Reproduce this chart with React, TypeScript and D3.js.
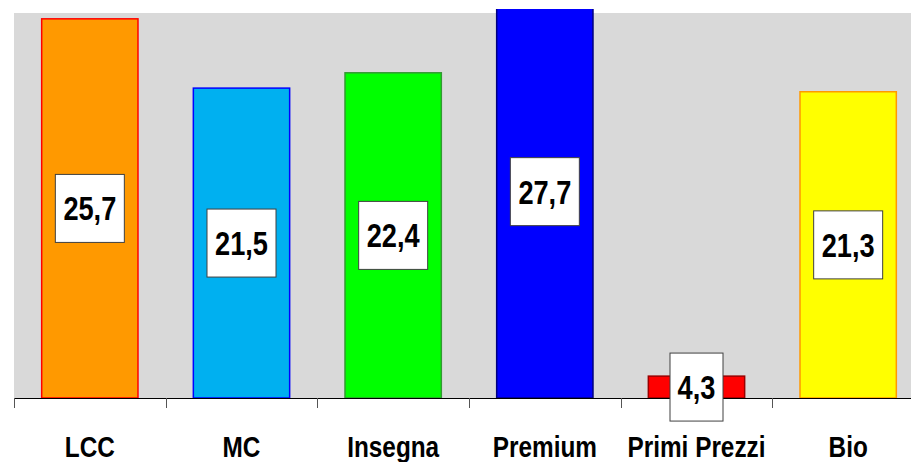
import React, { useEffect } from "react";
import * as d3 from "d3";

const categories = ["LCC", "MC", "Insegna", "Premium", "Primi Prezzi", "Bio"];
const labels = ["25,7", "21,5", "22,4", "27,7", "4,3", "21,3"];
// bar heights as drawn in the picture (same units as the axis)
const barHeights = [26.0, 21.25, 22.3, 28.3, 1.5, 21.0];
const fills = ["#ff9900", "#00b0f0", "#00ff00", "#0000ff", "#ff0000", "#ffff00"];
const strokes = ["#ff0000", "#0000ff", "#339933", "#000080", "#990000", "#ff9900"];

const W = 911;
const H = 462;

export default function App() {
  useEffect(() => {
    document.body.style.margin = "0";
  }, []);

  const x = d3.scaleBand<string>().domain(categories).range([14, 924]).padding(0);
  const y = d3.scaleLinear().domain([0, 26.4]).range([398, 13]);
  const bw = x.bandwidth() * 0.635;
  const font = "'Liberation Sans', Arial, sans-serif";

  return (
    <svg width={W} height={H} style={{ display: "block", background: "#fff" }}>
      <defs>
        <clipPath id="plotClip">
          <rect x={0} y={9} width={W} height={389} />
        </clipPath>
      </defs>
      <rect x={14} y={13} width={W - 14} height={385} fill="#d9d9d9" />
      <g clipPath="url(#plotClip)">
        {categories.map((c, i) => {
          const cx = (x(c) as number) + x.bandwidth() / 2;
          const top = y(barHeights[i]);
          return (
            <rect
              key={c}
              x={cx - bw / 2}
              y={top}
              width={bw}
              height={y(0) - top}
              fill={fills[i]}
              stroke={strokes[i]}
              strokeWidth={1.5}
            />
          );
        })}
      </g>
      <line x1={14} x2={W} y1={398.5} y2={398.5} stroke="#000" strokeWidth={1} />
      {d3.range(categories.length + 1).map((i) => {
        const tx = Math.round(14 + i * x.step()) + 0.5;
        return <line key={i} x1={tx} x2={tx} y1={398} y2={408} stroke="#555" strokeWidth={1} />;
      })}
      {categories.map((c, i) => {
        const cx = (x(c) as number) + x.bandwidth() / 2;
        const top = y(barHeights[i]);
        const cy = (top + y(0)) / 2;
        const boxW = labels[i].length === 4 ? 69 : 53;
        return (
          <g key={c}>
            <rect
              x={cx - boxW / 2}
              y={cy - 34}
              width={boxW}
              height={68}
              fill="#fff"
              stroke="#404040"
              strokeWidth={1}
            />
            <text
              transform={`translate(${cx},${cy + 12}) scale(0.8,1)`}
              textAnchor="middle"
              fontFamily={font}
              fontWeight="bold"
              fontSize={34}
              fill="#000"
            >
              {labels[i]}
            </text>
            <text
              transform={`translate(${cx},457) scale(0.84,1)`}
              textAnchor="middle"
              fontFamily={font}
              fontWeight="bold"
              fontSize={29}
              fill="#000"
            >
              {c}
            </text>
          </g>
        );
      })}
    </svg>
  );
}
